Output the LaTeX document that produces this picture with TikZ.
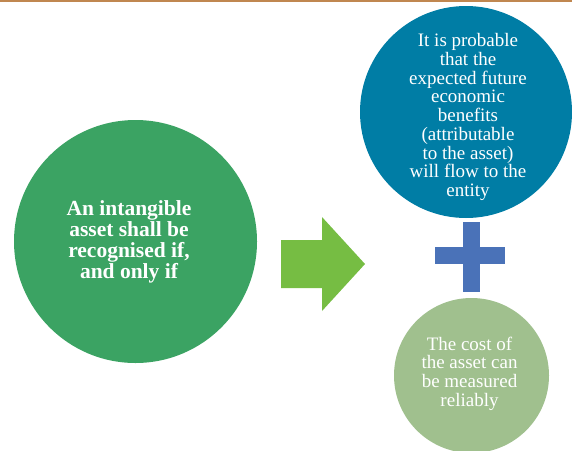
\documentclass[tikz,border=0pt]{standalone}
\usepackage{fontspec}
\setmainfont{Liberation Serif}
\usetikzlibrary{positioning}
\definecolor{topline}{RGB}{192,135,80}
\definecolor{maingreen}{RGB}{59,163,99}
\definecolor{arrowgreen}{RGB}{118,189,67}
\definecolor{condblue}{RGB}{0,125,165}
\definecolor{plusblue}{RGB}{74,114,184}
\definecolor{paleGreen}{RGB}{160,192,142}

\begin{document}
\begin{tikzpicture}[
  x=1pt, y=-1pt,
  bubble/.style={circle, inner sep=0pt},
  bubbletext/.style={text=white, align=center, inner sep=0pt,
                     font=\fontsize{19}{18.75}\selectfont},
  plusbar/.style={fill=plusblue}
]
\useasboundingbox (0,0) rectangle (572,450);
\fill[topline] (0,0) rectangle (572,2);

% left circle
\node[bubble, fill=maingreen, minimum size=243pt] (asset) at (135.5,241.5) {};
\node[bubbletext, font=\fontsize{21.5}{20.8}\selectfont\bfseries]
  (assettext) at ([shift={(-6.5,0.5)}]asset.center)
  {An intangible\\asset shall be\\recognised if,\\and only if};

% big arrow
\fill[arrowgreen] (281,240) -- (322,240) -- (322,217) -- (365,264)
  -- (322,311) -- (322,288) -- (281,288) -- cycle;

% right circles
\node[bubble, fill=condblue, minimum size=212pt] (benefit) at (466,112) {};
\node[bubbletext] (benefittext) at ([shift={(2,5)}]benefit.center)
  {It is probable\\that the\\expected future\\economic\\benefits\\(attributable\\to the asset)\\will flow to the\\entity};
\node[bubble, fill=paleGreen, minimum size=155pt] (cost) at (471.5,375.5) {};
\node[bubbletext] (costtext) at ([shift={(-2,-2)}]cost.center)
  {The cost of\\the asset can\\be measured\\reliably};

% plus sign
\fill[plusbar] (463,222) rectangle (480,292);
\fill[plusbar] (435,247) rectangle (505,264);
\end{tikzpicture}
\end{document}
